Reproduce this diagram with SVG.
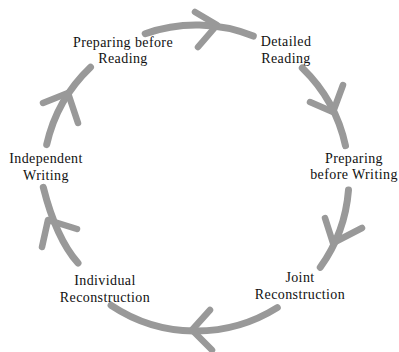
<svg xmlns="http://www.w3.org/2000/svg" width="399" height="352" viewBox="0 0 399 352">
<style>
.arc{fill:none;stroke:#999;stroke-width:7;stroke-linecap:round}
.head{fill:none;stroke:#999;stroke-width:6.5;stroke-linecap:round;stroke-linejoin:round}
text{font-family:"Liberation Serif","Times New Roman",serif;font-size:14px;fill:#111;text-anchor:middle;letter-spacing:0.4px}
</style>
<rect width="399" height="352" fill="#fff"/>
<g id="connectors">
<path class="arc" d="M145.2,33.7 A153,153 0 0 1 253.3,36.1"/>
<path class="arc" d="M302.3,67.9 A153,153 0 0 1 345.5,145.7"/>
<path class="arc" d="M348.5,190 A153,153 0 0 1 320.3,267.3"/>
<path class="arc" d="M277.3,307.6 A153,153 0 0 1 111.1,305.3"/>
<path class="arc" d="M78,263 Q56,238 43.3,187.3"/>
<path class="arc" d="M46.7,144.6 A153,153 0 0 1 90.5,67.2"/>
<path class="head" d="M195,12 L217,25 L198,47"/>
<path class="head" d="M343,85 L333,112 L310,102"/>
<path class="head" d="M325,218 L333,243 L362,228"/>
<path class="head" d="M210,310 L192,330 L212,350"/>
<path class="head" d="M42,247 L48,220 L77,229"/>
<path class="head" d="M43,103 L68,93 L78,123"/>
</g>
<g id="n1"><text x="123" y="47">Preparing before</text><text x="123" y="63">Reading</text></g>
<g id="n2"><text x="286" y="46">Detailed</text><text x="286" y="63">Reading</text></g>
<g id="n3"><text x="354" y="163">Preparing</text><text x="354" y="179">before Writing</text></g>
<g id="n4"><text x="300" y="282">Joint</text><text x="300" y="299">Reconstruction</text></g>
<g id="n5"><text x="105" y="285">Individual</text><text x="105" y="302">Reconstruction</text></g>
<g id="n6"><text x="46" y="163">Independent</text><text x="46" y="180">Writing</text></g>
</svg>
